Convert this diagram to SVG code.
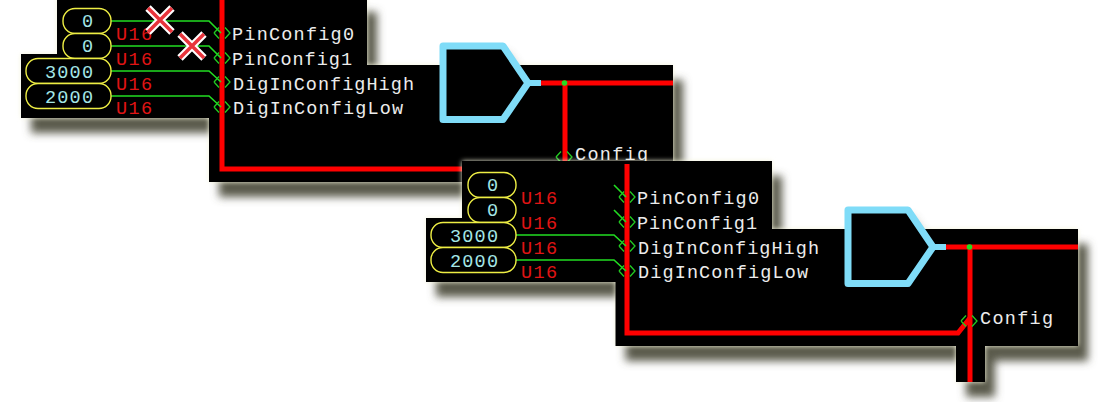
<svg xmlns="http://www.w3.org/2000/svg" width="1105" height="402" viewBox="0 0 1105 402">
<style>
.val{font:18.500px "Liberation Mono",monospace;fill:#a4e6e6}
.typ{font:18.500px "Liberation Mono",monospace;fill:#e01414}
.lbl{font:18.500px "Liberation Mono",monospace;fill:#ececec}
.oval{fill:#000;stroke:#eeee44;stroke-width:1.4}
.wire{fill:none;stroke:#22dd22;stroke-width:1.6}
.dia{fill:none;stroke:#22cc22;stroke-width:1.3}
.red{fill:none;stroke:#ff0000;stroke-width:5}
.cy{fill:#000;stroke:#7fdcf8;stroke-width:7;stroke-linejoin:round}
.cys{fill:none;stroke:#7fdcf8;stroke-width:6}
.shadow{fill:#5a5a4c;filter:url(#b4)}
.halo{fill:#f4f4dc;filter:url(#b3)}
.x1{stroke:#fff;stroke-width:7.500;fill:none}
.x2{stroke:#e8343c;stroke-width:3.500;fill:none}
</style>
<defs>
<filter id="b4" x="-20%" y="-30%" width="140%" height="160%"><feGaussianBlur stdDeviation="4.500"/></filter>
<filter id="b3" x="-20%" y="-30%" width="140%" height="160%"><feGaussianBlur stdDeviation="2.500"/></filter>
<path id="p1" d="M57-3H367V65H673V182H209V118H21V54H57Z"/>
<path id="p2" d="M57-3H367V65H673V182H580V218H551V182H210.500V118H21V54H57Z"/>
<path id="pent" d="M443 46H503L528 83L503 119.500H443Z"/>
<path id="d" d="M-8 0L-3-5.500M3-5.500L8 0L3 5.500M-3 5.500L-8 0"/>
</defs>
<rect width="1105" height="402" fill="#fff"/>

<g id="shadow-a">
<use href="#p1" class="shadow" transform="translate(10,15)"/>
<use href="#pent" class="shadow" opacity=".3" transform="translate(6,6)"/>
<use href="#p1" class="halo"/>
</g>
<g id="panel-a">
<use href="#p1" fill="#000"/>
</g>
<g id="connectors-a">
<path class="red" d="M222 0V169H470"/>
<path class="red" d="M540 83H673M565 83V162"/>
<path class="wire" d="M111 21H209L221 33M111 46H209L221 58M111 71H209L221 82M111 96H209L221 107"/>
<use href="#d" class="dia" x="222" y="33"/>
<use href="#d" class="dia" x="222" y="58"/>
<use href="#d" class="dia" x="222" y="82"/>
<use href="#d" class="dia" x="222" y="107"/>
<use href="#d" class="dia" x="564" y="157"/>
<circle cx="564.500" cy="83" r="2.800" fill="#22dd22"/>
</g>
<g id="pin-a0"><rect class="oval" x="63" y="8.500" width="48" height="25" rx="12"/><text class="val" x="82" y="27">0</text><text class="typ" x="116" y="40" textLength="36">U16</text></g>
<g id="pin-a1"><rect class="oval" x="63" y="33.500" width="48" height="25" rx="12"/><text class="val" x="82" y="52">0</text><text class="typ" x="116" y="65" textLength="36">U16</text></g>
<g id="pin-a2"><rect class="oval" x="26" y="58.500" width="85" height="25" rx="12"/><text class="val" x="45" y="78" textLength="48">3000</text><text class="typ" x="116" y="90" textLength="36">U16</text></g>
<g id="pin-a3"><rect class="oval" x="26" y="83.500" width="85" height="25" rx="12"/><text class="val" x="45" y="103" textLength="48">2000</text><text class="typ" x="116" y="114" textLength="36">U16</text></g>
<g id="labels-a">
<text class="lbl" x="232" y="40" textLength="122">PinConfig0</text>
<text class="lbl" x="232" y="65" textLength="120">PinConfig1</text>
<text class="lbl" x="233" y="90" textLength="181">DigInConfigHigh</text>
<text class="lbl" x="233" y="114" textLength="170">DigInConfigLow</text>
<text class="lbl" x="575" y="160" textLength="73">Config</text>
</g>
<g id="block-a">
<path class="cys" d="M526 83H541"/>
<use href="#pent" class="cy"/>
</g>
<g id="cross-1"><path class="x1" d="M148 8L172 32M172 8L148 32"/><path class="x2" d="M148 8L172 32M172 8L148 32"/></g>
<g id="cross-2"><path class="x1" d="M180 34L204 58M204 34L180 58"/><path class="x2" d="M180 34L204 58M204 34L180 58"/></g>

<g transform="translate(405,164)">
<g id="shadow-b">
<use href="#p2" class="shadow" transform="translate(10,15)"/>
<use href="#pent" class="shadow" opacity=".3" transform="translate(6,6)"/>
<use href="#p2" class="halo"/>
</g>
<g id="panel-b">
<use href="#p2" fill="#000"/>
</g>
<g id="connectors-b">
<path class="red" d="M222 0V169H553L565 154"/>
<path class="red" d="M540 83H673M565 83V218"/>
<path class="wire" d="M209 21L221 33M209 46L221 58M111 71H209L221 82M111 96H209L221 107"/>
<use href="#d" class="dia" x="222" y="33"/>
<use href="#d" class="dia" x="222" y="58"/>
<use href="#d" class="dia" x="222" y="82"/>
<use href="#d" class="dia" x="222" y="107"/>
<use href="#d" class="dia" x="564" y="157"/>
<circle cx="564.500" cy="83" r="2.800" fill="#22dd22"/>
</g>
<g id="pin-b0"><rect class="oval" x="63" y="8.500" width="48" height="25" rx="12"/><text class="val" x="82" y="27">0</text><text class="typ" x="116" y="40" textLength="36">U16</text></g>
<g id="pin-b1"><rect class="oval" x="63" y="33.500" width="48" height="25" rx="12"/><text class="val" x="82" y="52">0</text><text class="typ" x="116" y="65" textLength="36">U16</text></g>
<g id="pin-b2"><rect class="oval" x="26" y="58.500" width="85" height="25" rx="12"/><text class="val" x="45" y="78" textLength="48">3000</text><text class="typ" x="116" y="90" textLength="36">U16</text></g>
<g id="pin-b3"><rect class="oval" x="26" y="83.500" width="85" height="25" rx="12"/><text class="val" x="45" y="103" textLength="48">2000</text><text class="typ" x="116" y="114" textLength="36">U16</text></g>
<g id="labels-b">
<text class="lbl" x="232" y="40" textLength="122">PinConfig0</text>
<text class="lbl" x="232" y="65" textLength="120">PinConfig1</text>
<text class="lbl" x="233" y="90" textLength="181">DigInConfigHigh</text>
<text class="lbl" x="233" y="114" textLength="170">DigInConfigLow</text>
<text class="lbl" x="575" y="160" textLength="73">Config</text>
</g>
<g id="block-b">
<path class="cys" d="M526 83H541"/>
<use href="#pent" class="cy"/>
</g>
</g>
</svg>
